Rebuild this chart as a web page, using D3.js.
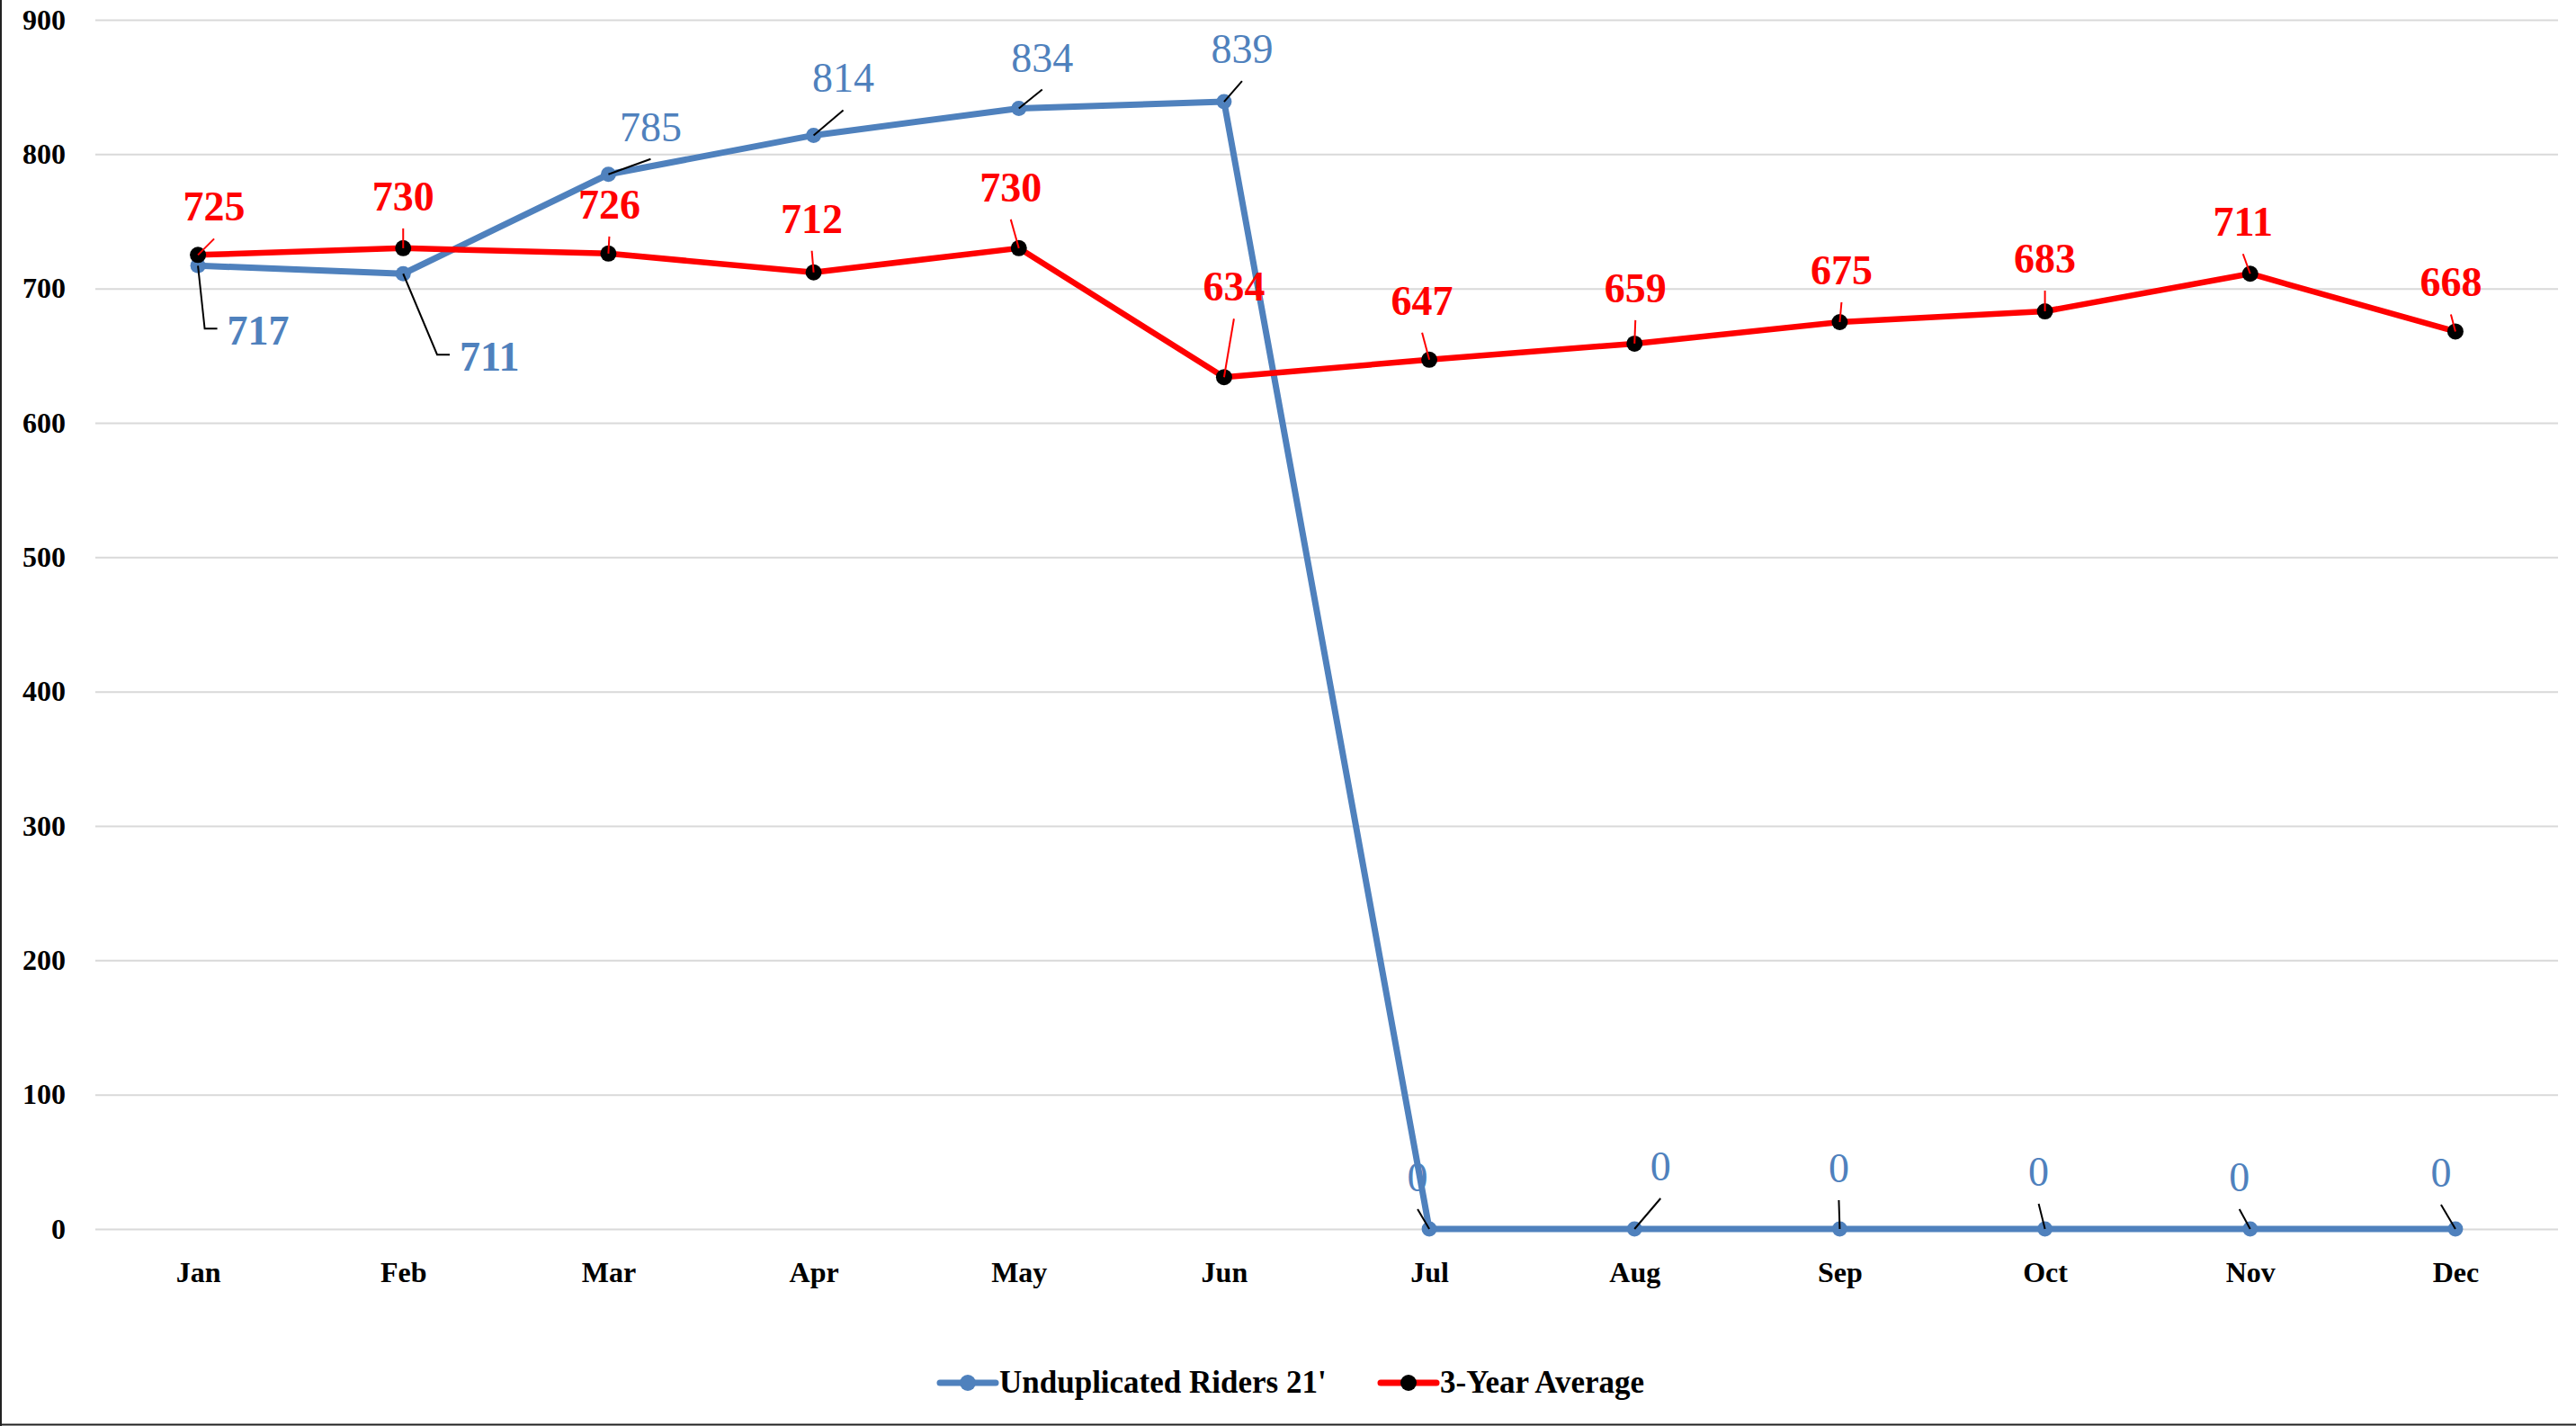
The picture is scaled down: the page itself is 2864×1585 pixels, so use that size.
<!DOCTYPE html>
<html>
<head>
<meta charset="utf-8">
<script src="https://cdn.jsdelivr.net/npm/d3@7"></script>
<style>
  body { margin: 0; background: #fff; }
  text { font-family: "Liberation Serif", "DejaVu Serif", serif; }
</style>
</head>
<body>
<div id="chart"></div>
<script>
  var months = ['Jan', 'Feb', 'Mar', 'Apr', 'May', 'Jun', 'Jul', 'Aug', 'Sep', 'Oct', 'Nov', 'Dec'];
  var riders21 = [717, 711, 785, 814, 834, 839, 0, 0, 0, 0, 0, 0];
  var threeYearAvg = [725, 730, 726, 712, 730, 634, 647, 659, 675, 683, 711, 668];
  var yTicks = [0, 100, 200, 300, 400, 500, 600, 700, 800, 900];
  var seriesNames = ["Unduplicated Riders 21'", '3-Year Average'];

  // where Excel dragged each data label, relative to its point (px)
  var riderLabelOffsets = [[67, 72], [96, 92], [47, -53], [33, -64], [26, -57], [20, -59],
    [-13, -58], [29, -70], [-1, -68], [-7, -64], [-12, -58], [-16, -63]];
  var avgLabelOffsets = [[18, -54], [0, -58], [1, -55], [-2, -60], [-9, -68], [11, -101],
    [-8, -66], [1, -62], [2, -58], [0, -59], [-8, -58], [-5, -55]];

  var width = 2864,
    height = 1585,
    plotLeft = 106,
    plotRight = 2844,
    plotTop = 22,
    plotBottom = 1366,
    blue = '#4F81BD',
    red = '#FF0000';

  var svg = d3.select('#chart')
    .append('svg')
    .attr('width', width)
    .attr('height', height);

  var x = d3.scalePoint().domain(months).range([plotLeft, plotRight]).padding(0.5);
  var y = d3.scaleLinear().domain([0, 900]).range([plotBottom, plotTop]);

  // gridlines + y labels
  var yAxis = svg.append('g')
    .attr('transform', 'translate(' + plotLeft + ',0)')
    .call(d3.axisLeft(y).tickValues(yTicks).tickSize(-(plotRight - plotLeft)).tickPadding(33));
  yAxis.select('.domain').remove();
  yAxis.selectAll('line').attr('stroke', '#D9D9D9').attr('stroke-width', 2);
  yAxis.selectAll('text')
    .style('font-family', '"Liberation Serif", serif')
    .style('font-size', '32px')
    .style('font-weight', 'bold')
    .attr('fill', '#000');

  var xAxis = svg.append('g')
    .attr('transform', 'translate(0,' + plotBottom + ')')
    .call(d3.axisBottom(x).tickSize(0).tickPadding(36));
  xAxis.select('.domain').remove();
  xAxis.selectAll('text')
    .style('font-family', '"Liberation Serif", serif')
    .style('font-size', '32px')
    .style('font-weight', 'bold')
    .attr('fill', '#000');

  // chart border (only left and bottom edges are in frame)
  svg.append('line').attr('x1', 1).attr('y1', 0).attr('x2', 1).attr('y2', height)
    .attr('stroke', '#222').attr('stroke-width', 2);
  svg.append('line').attr('x1', 0).attr('y1', height - 1.5).attr('x2', width).attr('y2', height - 1.5)
    .attr('stroke', '#222').attr('stroke-width', 2);

  var line = d3.line()
    .x(function(d, i){ return x(months[i]); })
    .y(function(d){ return y(d); });

  svg.append('path')
    .datum(riders21)
    .attr('fill', 'none')
    .attr('stroke', blue)
    .attr('stroke-width', 7)
    .attr('stroke-linejoin', 'round')
    .attr('d', line);

  svg.append('path')
    .datum(threeYearAvg)
    .attr('fill', 'none')
    .attr('stroke', red)
    .attr('stroke-width', 6.5)
    .attr('stroke-linejoin', 'round')
    .attr('d', line);

  svg.selectAll('.riderDot')
    .data(riders21)
    .enter().append('circle')
    .attr('class', 'riderDot')
    .attr('cx', function(d, i){ return x(months[i]); })
    .attr('cy', function(d){ return y(d); })
    .attr('r', 8.5)
    .attr('fill', blue);

  svg.selectAll('.avgDot')
    .data(threeYearAvg)
    .enter().append('circle')
    .attr('class', 'avgDot')
    .attr('cx', function(d, i){ return x(months[i]); })
    .attr('cy', function(d){ return y(d); })
    .attr('r', 9)
    .attr('fill', '#000');

  function drawLabels(values, offsets, color, leaderColor, weightFn) {
    var g = svg.append('g');
    values.forEach(function(v, i){
      var px = x(months[i]), py = y(v);
      var cx = px + offsets[i][0], cy = py + offsets[i][1];
      var t = g.append('text')
        .attr('x', cx)
        .attr('y', cy + 16)
        .attr('text-anchor', 'middle')
        .style('font-size', '46px')
        .style('font-weight', weightFn(i))
        .attr('fill', color)
        .text(v);
      var w = t.node().getComputedTextLength();
      var pts;
      if (cy - 16 > py) {
        // label sits below-right: elbow leader into its left side
        var lx = cx - w / 2 - 11;
        pts = [[px, py], [lx - 14, cy - 2], [lx, cy - 2]];
      } else {
        pts = [[px, py], [cx, cy + 16 + 20]];
      }
      g.insert('path', 'text')
        .attr('d', d3.line()(pts))
        .attr('fill', 'none')
        .attr('stroke', leaderColor)
        .attr('stroke-width', 2);
    });
  }

  drawLabels(threeYearAvg, avgLabelOffsets, red, red, function(){ return 'bold'; });
  drawLabels(riders21, riderLabelOffsets, blue, '#000', function(i){ return i < 2 ? 'bold' : 'normal'; });

  // legend
  var legend = svg.append('g').attr('transform', 'translate(0,1537)');
  var legendItems = [
    {name: seriesNames[0], x: 1045, stroke: blue, dot: blue},
    {name: seriesNames[1], x: 1535, stroke: red, dot: '#000'}
  ];
  legendItems.forEach(function(d){
    legend.append('line')
      .attr('x1', d.x).attr('x2', d.x + 62)
      .attr('y1', 0).attr('y2', 0)
      .attr('stroke', d.stroke)
      .attr('stroke-width', 7)
      .attr('stroke-linecap', 'round');
    legend.append('circle')
      .attr('cx', d.x + 31).attr('cy', 0).attr('r', 9)
      .attr('fill', d.dot);
    legend.append('text')
      .attr('x', d.x + 66)
      .attr('y', 11)
      .style('font-size', '35px')
      .style('font-weight', 'bold')
      .attr('fill', '#000')
      .text(d.name);
  });
</script>
</body>
</html>
